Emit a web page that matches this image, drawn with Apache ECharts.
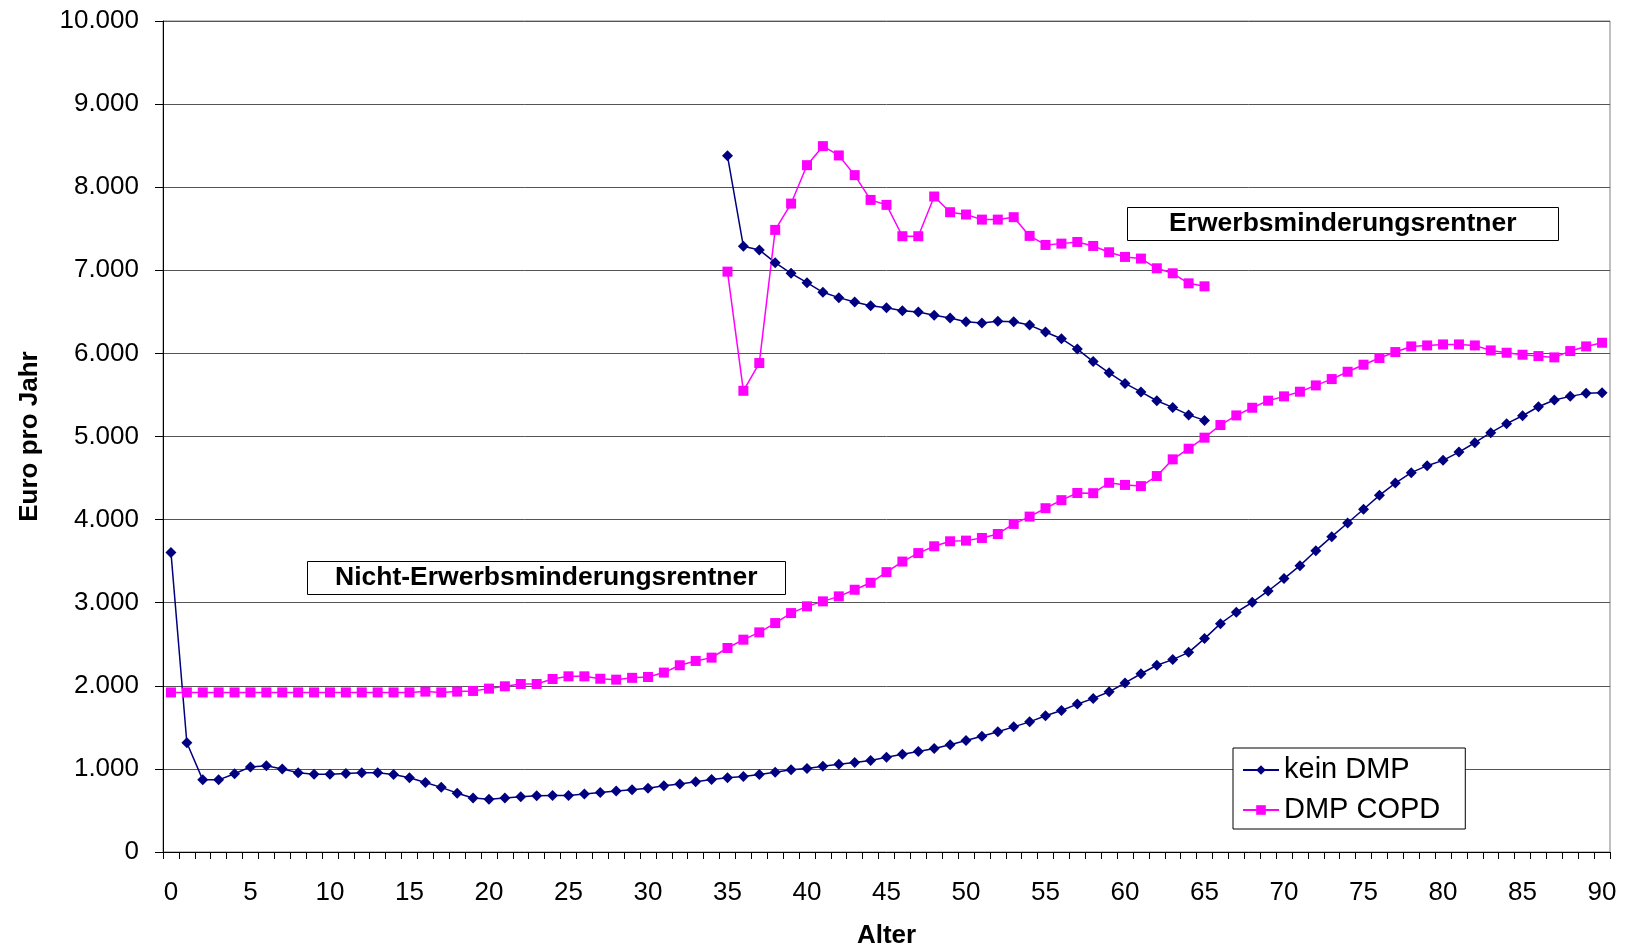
<!DOCTYPE html>
<html>
<head>
<meta charset="utf-8">
<script src="https://cdn.jsdelivr.net/npm/echarts@6/dist/echarts.min.js"></script>
<style>
    html, body { margin: 0; padding: 0; background: #fff; }
    #main { width: 1626px; height: 945px; }
</style>
</head>
<body>
<div id="main"></div>
<script>
    // Alter 0..90
    var alter = [];
    for (var a = 0; a <= 90; a++) alter.push(String(a));

    // Nicht-Erwerbsminderungsrentner
    var keinDMP = [
        3605, 1315, 868, 868, 942, 1024, 1038, 1000, 955, 936,
        936, 945, 953, 953, 933, 893, 837, 778, 708, 650,
        636, 650, 665, 677, 681, 681, 697, 715, 735, 748,
        768, 797, 817, 845, 873, 893, 909, 933, 961, 989,
        1005, 1033, 1057, 1077, 1101, 1141, 1177, 1209, 1245, 1290,
        1342, 1394, 1446, 1506, 1566, 1640, 1702, 1780, 1848, 1928,
        2034, 2145, 2247, 2315, 2403, 2568, 2748, 2885, 3005, 3141,
        3290, 3446, 3626, 3795, 3959, 4124, 4292, 4440, 4565, 4649,
        4713, 4813, 4925, 5046, 5154, 5250, 5358, 5439, 5483, 5519,
        5527
    ];
    var dmpCOPD = [
        1920, 1920, 1920, 1920, 1920, 1920, 1920, 1920, 1920, 1920,
        1920, 1920, 1920, 1920, 1920, 1920, 1930, 1920, 1930, 1938,
        1966, 1994, 2022, 2022, 2082, 2114, 2114, 2085, 2074, 2096,
        2106, 2159, 2247, 2299, 2339, 2455, 2555, 2643, 2755, 2875,
        2956, 3016, 3076, 3156, 3240, 3368, 3495, 3597, 3679, 3739,
        3747, 3779, 3827, 3948, 4036, 4137, 4234, 4320, 4318, 4443,
        4417, 4403, 4524, 4725, 4853, 4986, 5138, 5254, 5346, 5431,
        5483, 5539, 5615, 5691, 5779, 5864, 5944, 6016, 6084, 6096,
        6108, 6108, 6096, 6036, 6008, 5984, 5968, 5952, 6028, 6084,
        6128
    ];

    // Erwerbsminderungsrentner, Alter 35..65
    var erwStart = 35;
    var erwKeinDMP = [
        8378, 7289, 7245, 7092, 6964, 6851, 6735, 6671, 6618, 6574,
        6550, 6514, 6498, 6458, 6426, 6382, 6365, 6386, 6382, 6341,
        6257, 6177, 6052, 5902, 5767, 5639, 5537, 5430, 5350, 5260,
        5194
    ];
    var erwDmpCOPD = [
        6984, 5550, 5884, 7486, 7803, 8265, 8494, 8382, 8145, 7847,
        7787, 7410, 7410, 7888, 7699, 7671, 7610, 7610, 7639, 7414,
        7305, 7321, 7341, 7293, 7217, 7161, 7141, 7024, 6964, 6843,
        6807
    ];

    function padErw(arr) {
        var res = [];
        for (var i = 0; i < alter.length; i++) {
            var k = i - erwStart;
            res.push(k >= 0 && k < arr.length ? arr[k] : null);
        }
        return res;
    }

    var NAVY = '#000080';
    var PINK = '#FF00FF';
    var FONT = 'Liberation Sans, Arial, sans-serif';

    var myChart = echarts.init(document.getElementById('main'));

    function lineSeries(name, data, color, symbol, size) {
        return {
            name: name,
            type: 'line',
            data: data,
            symbol: symbol,
            symbolSize: size,
            showAllSymbol: true,
            connectNulls: false,
            animation: false,
            lineStyle: { color: color, width: 1.5 },
            itemStyle: { color: color }
        };
    }

    var option = {
        animation: false,
        textStyle: { fontFamily: FONT, color: '#000' },
        grid: {
            left: 163, right: 16, top: 21, bottom: 93,
            outerBoundsMode: 'none',
            containLabel: false,
            show: true, borderColor: '#808080', borderWidth: 1
        },
        title: [
            {
                text: 'Nicht-Erwerbsminderungsrentner',
                left: 307, top: 561,
                padding: [2, 28, 2, 28],
                borderColor: '#000', borderWidth: 1,
                backgroundColor: '#fff',
                textStyle: { fontFamily: FONT, fontSize: 26.5, fontWeight: 'bold', color: '#000', lineHeight: 30 }
            },
            {
                text: 'Erwerbsminderungsrentner',
                left: 1127, top: 207,
                padding: [2, 42, 2, 42],
                borderColor: '#000', borderWidth: 1,
                backgroundColor: '#fff',
                textStyle: { fontFamily: FONT, fontSize: 26.5, fontWeight: 'bold', color: '#000', lineHeight: 30 }
            }
        ],
        legend: {
            data: ['kein DMP', 'DMP COPD'],
            orient: 'vertical',
            left: 1233, top: 748,
            padding: [7, 25, 4, 9],
            itemGap: 10,
            itemWidth: 36,
            itemHeight: 12,
            borderColor: '#000', borderWidth: 1,
            backgroundColor: '#fff',
            textStyle: { fontFamily: FONT, fontSize: 29, color: '#000', lineHeight: 30 }
        },
        xAxis: {
            type: 'category',
            data: alter,
            boundaryGap: true,
            name: 'Alter',
            nameLocation: 'middle',
            nameGap: 71,
            nameTextStyle: { fontFamily: FONT, fontSize: 26, fontWeight: 'bold', color: '#000' },
            axisLine: { lineStyle: { color: '#000', width: 1 } },
            axisTick: { show: true, interval: 0, length: 7, lineStyle: { color: '#000' } },
            axisLabel: { interval: 4, fontSize: 26, margin: 28, color: '#000', fontFamily: FONT },
            splitLine: { show: false }
        },
        yAxis: {
            type: 'value',
            min: 0, max: 10000, interval: 1000,
            name: 'Euro pro Jahr',
            nameLocation: 'middle',
            nameRotate: 90,
            nameGap: 120,
            nameTextStyle: { fontFamily: FONT, fontSize: 26, fontWeight: 'bold', color: '#000' },
            axisLine: { show: true, lineStyle: { color: '#000', width: 1 } },
            axisTick: { show: true, length: 8, lineStyle: { color: '#000' } },
            axisLabel: {
                fontSize: 26, margin: 24, color: '#000', fontFamily: FONT,
                formatter: function (v) {
                    return String(v).replace(/\B(?=(\d{3})+(?!\d))/g, '.');
                }
            },
            splitLine: { show: true, lineStyle: { color: '#555', width: 1 } }
        },
        series: [
            lineSeries('kein DMP', keinDMP, NAVY, 'diamond', 11),
            lineSeries('DMP COPD', dmpCOPD, PINK, 'rect', 10),
            lineSeries('kein DMP', padErw(erwKeinDMP), NAVY, 'diamond', 11),
            lineSeries('DMP COPD', padErw(erwDmpCOPD), PINK, 'rect', 10)
        ]
    };

    myChart.setOption(option);
</script>
</body>
</html>
